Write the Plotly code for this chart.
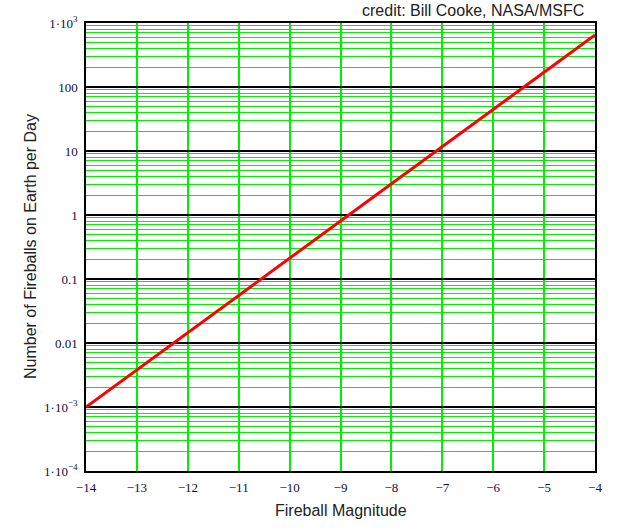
import plotly.graph_objects as go

magnitudes = [-14, -13, -12, -11, -10, -9, -8, -7, -6, -5, -4]
fireballs_per_day = [0.001, 0.0038, 0.0145, 0.055, 0.21, 0.80, 3.0, 11.5, 44, 170, 650]

x_ticks = [-14, -13, -12, -11, -10, -9, -8, -7, -6, -5, -4]
y_tickvals = [1e-4, 1e-3, 0.01, 0.1, 1, 10, 100, 1000]
y_ticktext = ["1·10<sup>−4</sup>", "1·10<sup>−3</sup>", "0.01", "0.1", "1", "10", "100", "1·10<sup>3</sup>"]

fig = go.Figure()
fig.add_trace(go.Scatter(x=magnitudes, y=fireballs_per_day, mode="lines",
                         line=dict(color="#ff0000", width=3), showlegend=False, hoverinfo="skip"))

tickfont = dict(family="Liberation Serif", size=13, color="#10103a")
titlefont = dict(family="Liberation Sans", size=16, color="#222")
fig.update_layout(
    width=620, height=530,
    margin=dict(l=86, r=25, t=23, b=59),
    paper_bgcolor="white", plot_bgcolor="white",
    xaxis=dict(range=[-14, -4], tickvals=x_ticks, showgrid=True, gridcolor="#00f000", gridwidth=2,
               showline=True, linecolor="black", linewidth=1.5, mirror=True, zeroline=False,
               tickfont=tickfont, ticks="outside", ticklen=4, tickcolor="rgba(0,0,0,0)",
               automargin=False),
    yaxis=dict(type="log", range=[-4, 3], tickvals=y_tickvals, ticktext=y_ticktext,
               showgrid=True, gridcolor="black", gridwidth=1.5,
               minor=dict(showgrid=True, gridcolor="#00f000", gridwidth=1, dtick="D1", ticks=""),
               showline=True, linecolor="black", linewidth=1.5, mirror=True, zeroline=False,
               tickfont=tickfont, ticks="outside", ticklen=4, tickcolor="rgba(0,0,0,0)",
               automargin=False),
    annotations=[
        dict(text="credit: Bill Cooke, NASA/MSFC", xref="paper", yref="paper",
             x=1.0, y=1.0, xanchor="right", yanchor="bottom", yshift=2, xshift=-9,
             showarrow=False, font=titlefont),
        dict(text="Fireball Magnitude", xref="paper", yref="paper", x=0.5, y=0,
             xanchor="center", yanchor="middle", yshift=-39, showarrow=False, font=titlefont),
        dict(text="Number of Fireballs on Earth per Day", xref="paper", yref="paper", x=0, y=0.5,
             xanchor="center", yanchor="middle", xshift=-56, textangle=-90, showarrow=False,
             font=titlefont),
    ],
)

fig.write_html("out.html", config={"displayModeBar": False},
               post_script="document.body.style.margin='0';")
